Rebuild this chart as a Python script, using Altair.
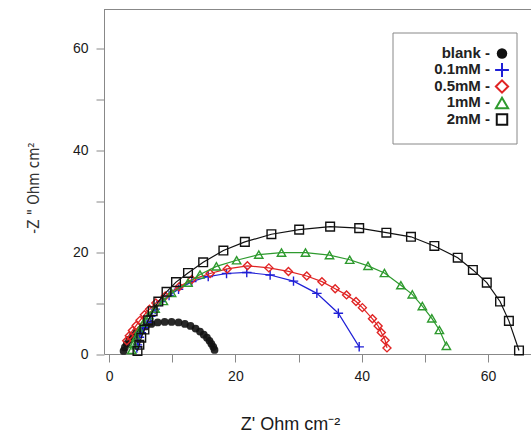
import altair as alt
import pandas as pd

series = ["blank", "0.1mM", "0.5mM", "1mM", "2mM"]
legend_labels = ["blank -", "0.1mM -", "0.5mM -", "1mM -", "2mM -"]

x_blank = [2.3, 2.5, 2.8, 3.2, 3.7, 4.3, 5.0, 5.8, 6.7, 7.7, 8.8, 9.9, 11.0, 12.0,
           12.9, 13.7, 14.4, 15.0, 15.5, 15.9, 16.2, 16.5, 16.7]
y_blank = [0.6, 1.3, 2.0, 2.8, 3.5, 4.2, 4.8, 5.4, 5.9, 6.2, 6.3, 6.3, 6.2, 5.9,
           5.5, 5.0, 4.4, 3.8, 3.2, 2.6, 2.0, 1.4, 0.8]

x_01 = [4.4, 4.5, 4.6, 4.8, 5.1, 5.5, 6.0, 6.6, 7.3, 8.2, 9.5, 11.0, 13.1, 15.7,
        18.6, 21.8, 25.5, 29.2, 32.9, 36.3, 39.6]
y_01 = [1.2, 1.8, 2.5, 3.3, 4.2, 5.2, 6.2, 7.4, 8.8, 10.3, 11.5, 12.7, 14.2, 15.2,
        15.8, 16.0, 15.5, 14.3, 11.9, 8.0, 1.4]

x_05 = [2.8, 3.2, 3.7, 4.3, 4.9, 5.6, 6.4, 7.4, 8.9, 11.1, 13.1, 16.0, 18.7, 21.9,
        25.3, 28.4, 31.3, 33.7, 35.8, 37.6, 39.1, 40.1, 41.7, 42.6, 43.1, 43.7, 44.0]
y_05 = [2.6, 3.6, 4.6, 5.6, 6.6, 7.7, 8.8, 10.0, 11.4, 13.2, 14.6, 15.8, 16.7, 17.3,
        16.9, 16.2, 15.3, 14.2, 12.8, 11.6, 10.3, 9.1, 6.9, 5.5, 4.2, 2.7, 1.2]

x_1 = [3.6, 3.9, 4.3, 4.8, 5.5, 6.3, 7.3, 8.6, 9.9, 12.5, 14.4, 17.0, 20.2, 23.7,
       27.3, 31.1, 34.9, 38.1, 41.0, 43.6, 46.2, 48.0, 49.6, 51.1, 52.3, 53.4]
y_1 = [0.8, 2.0, 3.3, 4.7, 6.2, 7.6, 8.9, 10.4, 12.0, 14.0, 15.6, 17.2, 18.4, 19.5,
       19.9, 19.9, 19.4, 18.5, 17.3, 15.9, 13.5, 11.7, 9.4, 7.0, 4.7, 1.6]

x_2 = [4.5, 4.8, 5.1, 5.6, 6.2, 6.9, 7.8, 9.1, 10.6, 12.5, 14.9, 18.1, 21.5, 25.7,
       30.1, 35.0, 39.6, 43.9, 47.8, 51.5, 55.2, 57.6, 59.8, 61.9, 63.3, 64.9]
y_2 = [0.6, 1.8, 3.2, 4.8, 6.6, 8.4, 10.3, 12.2, 14.1, 15.9, 18.0, 20.3, 22.0, 23.5,
       24.4, 25.0, 24.7, 23.8, 23.0, 21.2, 18.9, 16.5, 14.0, 10.3, 6.5, 0.7]

xs = [x_blank, x_01, x_05, x_1, x_2]
ys = [y_blank, y_01, y_05, y_1, y_2]

colors = ["#111111", "#1f1fd6", "#e02424", "#2e9a2e", "#111111"]
PLUS = "M-1,0L1,0M0,-1L0,1"
shapes = ["circle", PLUS, "diamond", "triangle-up", "square"]
filled = [True, False, False, False, False]
sizes = [60, 90, 64, 70, 75]
leg_sizes = [110, 190, 150, 150, 110]

W, H = 427, 344.5
XDOM = [-0.8, 66.8]
YDOM = [0, 67.6]
AXIS_GRAY = "#888888"

xscale = alt.Scale(domain=XDOM, nice=False, zero=False)
yscale = alt.Scale(domain=YDOM, nice=False, zero=False)

label_expr = "datum.value % 20 == 0 ? datum.label : ''"
common_axis = dict(
    values=[0, 10, 20, 30, 40, 50, 60], labelExpr=label_expr, grid=False,
    domainColor=AXIS_GRAY, tickColor=AXIS_GRAY, tickSize=8, tickWidth=1,
    labelFont="Liberation Sans", labelFontSize=14, labelColor="#1a1a1a",
)
x_axis = alt.Axis(
    title="Z' Ohm cm⁻²", titleFont="Liberation Sans", titleFontSize=18,
    titleFontWeight="normal", titleColor="#1a1a1a", titleX=186, titleY=75,
    titleAlign="center", titleBaseline="alphabetic",
    labelPadding=7, **common_axis,
)
y_axis = alt.Axis(
    title='-Z "  Ohm cm²',
    titleFont="Liberation Sans Narrow, DejaVu Sans Condensed, Liberation Sans",
    titleFontSize=15, titleFontWeight="normal", titleColor="#333333",
    titleX=-71, titleY=178, titleAngle=-90, titleAlign="center",
    titleBaseline="middle", labelPadding=8, **common_axis,
)

enc_x = alt.X("x:Q", scale=xscale, axis=x_axis)
enc_y = alt.Y("y:Q", scale=yscale, axis=y_axis)

layers = []
for i, name in enumerate(series):
    df = pd.DataFrame({"x": xs[i], "y": ys[i], "series": name})
    base = alt.Chart(df)
    if i > 0:
        layers.append(base.mark_line(color=colors[i], strokeWidth=1.2).encode(
            x=enc_x, y=enc_y, order="idx:Q").transform_window(idx="row_number()"))
    if filled[i]:
        pt = base.mark_point(shape=shapes[i], filled=True, fill=colors[i],
                             color=colors[i], size=sizes[i], opacity=0.9)
    else:
        pt = base.mark_point(shape=shapes[i], filled=False, color=colors[i],
                             size=sizes[i], strokeWidth=1.4, opacity=1)
    layers.append(pt.encode(x=enc_x, y=enc_y))

# top frame line
frame_df = pd.DataFrame({"k": [0]})
layers.append(alt.Chart(frame_df).mark_rule(color=AXIS_GRAY, strokeWidth=1).encode(
    x=alt.value(0), x2=alt.value(W), y=alt.value(0)))

# legend box
layers.append(alt.Chart(frame_df).mark_rect(fill="white", stroke=AXIS_GRAY, strokeWidth=1).encode(
    x=alt.value(289), x2=alt.value(413), y=alt.value(23.5), y2=alt.value(134.5)))

leg_df = pd.DataFrame({"label": legend_labels, "series": series})
for i, name in enumerate(series):
    ly = 43 + 16.5 * i
    row = alt.Chart(leg_df).transform_filter(alt.datum.series == name)
    layers.append(row.mark_text(align="right", baseline="middle", font="Liberation Sans",
                                fontSize=15, fontWeight="bold", color="#222222").encode(
        x=alt.value(386), y=alt.value(ly), text="label:N"))
    if filled[i]:
        sym = row.mark_point(shape=shapes[i], filled=True, fill=colors[i], color=colors[i],
                             size=leg_sizes[i], opacity=1)
    else:
        sym = row.mark_point(shape=shapes[i], filled=False, color=colors[i],
                             size=leg_sizes[i], strokeWidth=2, opacity=1)
    layers.append(sym.encode(x=alt.value(398), y=alt.value(ly + 1)))

chart = alt.layer(*layers).properties(
    width=W, height=H,
    autosize=alt.AutoSizeParams(type="none"),
    padding={"left": 104, "top": 9.5, "right": 0, "bottom": 80},
    background="white",
).configure_view(stroke=None)

chart.save("out.html", embed_options={"renderer": "svg", "actions": False})
